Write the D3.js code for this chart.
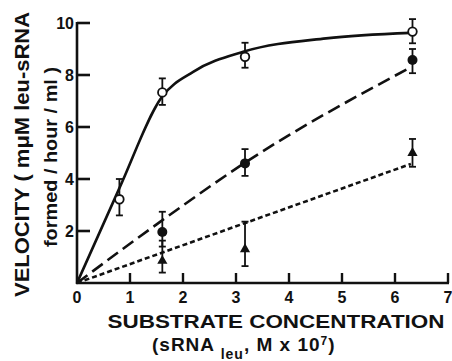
<!DOCTYPE html>
<html>
<head>
<meta charset="utf-8">
<script src="https://cdn.jsdelivr.net/npm/d3@7"></script>
<style>
  body { margin: 0; background: #fff; }
  text { font-family: "Liberation Sans", Arial, sans-serif; font-weight: bold; fill: #111; }
</style>
</head>
<body>
<div id="chart"></div>
<script>
var width = 452,
  height = 361;

// measured points: [substrate, velocity, errLow, errHigh]
var openPts = [[0.8, 3.22, 2.6, 4.0], [1.61, 7.33, 6.85, 7.87], [3.17, 8.7, 8.28, 9.24], [6.33, 9.67, 9.22, 10.15]];
var filledPts = [[1.61, 1.96, 1.4, 2.74], [3.17, 4.6, 4.12, 5.15], [6.33, 8.58, 8.07, 9.0]];
var trianglePts = [[1.61, 0.85, 0.4, 1.63], [3.17, 1.3, 0.65, 2.36], [6.33, 5.0, 4.47, 5.54]];

// fitted curves
var solidCurve = [[0, 0], [0.8, 3.65], [1.6, 7.15], [2.2, 8.13], [3.15, 8.9], [4.7, 9.41], [6.3, 9.62]];
var longDashCurve = [[0, 0], [1.6, 2.4], [3.15, 4.6], [6.3, 8.3]];
var shortDashCurve = [[0, 0], [6.3, 4.58]];

var xTicks = [1, 2, 3, 4, 5, 6, 7];
var xLabels = [0, 1, 2, 3, 4, 5, 6, 7];
var yTicks = [2, 4, 6, 8, 10];

var svg = d3.select("#chart")
  .append("svg")
  .attr("width", width)
  .attr("height", height)

var x = d3.scaleLinear().domain([0, 7]).range([77, 448])
var y = d3.scaleLinear().domain([0, 10]).range([283, 23])

// axes
svg.append("line")
  .attr("x1", x(0)).attr("x2", x(0))
  .attr("y1", y(0) + 1).attr("y2", y(10) - 1)
  .attr("stroke", "#111").attr("stroke-width", 2.6)
svg.append("line")
  .attr("x1", x(0) - 1).attr("x2", x(7) + 1)
  .attr("y1", y(0)).attr("y2", y(0))
  .attr("stroke", "#111").attr("stroke-width", 2.6)

svg.selectAll(".ytick")
  .data(yTicks)
  .enter().append("line")
  .attr("class", "ytick")
  .attr("x1", x(0)).attr("x2", x(0) + 13)
  .attr("y1", function(d) { return y(d) }).attr("y2", function(d) { return y(d) })
  .attr("stroke", "#111").attr("stroke-width", 2.6)

svg.selectAll(".xtick")
  .data(xTicks)
  .enter().append("line")
  .attr("class", "xtick")
  .attr("x1", function(d) { return x(d) }).attr("x2", function(d) { return x(d) })
  .attr("y1", y(0)).attr("y2", y(0) - 10)
  .attr("stroke", "#111").attr("stroke-width", 2.4)

svg.selectAll(".ylabel")
  .data(yTicks)
  .enter().append("text")
  .attr("class", "ylabel")
  .attr("x", x(0) - 3)
  .attr("y", function(d) { return y(d) + 6 })
  .attr("text-anchor", "end")
  .style("font-size", "16px")
  .text(function(d) { return d })

svg.selectAll(".xlabel")
  .data(xLabels)
  .enter().append("text")
  .attr("class", "xlabel")
  .attr("x", function(d) { return x(d) })
  .attr("y", 303)
  .attr("text-anchor", "middle")
  .style("font-size", "16px")
  .text(function(d) { return d })

// curves
var line = d3.line()
  .x(function(d) { return x(d[0]) })
  .y(function(d) { return y(d[1]) })

svg.append("path")
  .datum(solidCurve)
  .attr("d", line.curve(d3.curveMonotoneX))
  .attr("fill", "none").attr("stroke", "#111").attr("stroke-width", 2.6)

svg.append("path")
  .datum(longDashCurve)
  .attr("d", line.curve(d3.curveMonotoneX))
  .attr("fill", "none").attr("stroke", "#111").attr("stroke-width", 2.6)
  .attr("stroke-dasharray", "13,6")

svg.append("path")
  .datum(shortDashCurve)
  .attr("d", line.curve(d3.curveLinear))
  .attr("fill", "none").attr("stroke", "#111").attr("stroke-width", 2.6)
  .attr("stroke-dasharray", "5,3")

// error bars
function errorBars(pts) {
  var g = svg.append("g")
  g.selectAll(".eb").data(pts).enter().append("line")
    .attr("x1", function(d) { return x(d[0]) }).attr("x2", function(d) { return x(d[0]) })
    .attr("y1", function(d) { return y(d[2]) }).attr("y2", function(d) { return y(d[3]) })
    .attr("stroke", "#111").attr("stroke-width", 1.8)
  g.selectAll(".capl").data(pts).enter().append("line")
    .attr("x1", function(d) { return x(d[0]) - 3.5 }).attr("x2", function(d) { return x(d[0]) + 3.5 })
    .attr("y1", function(d) { return y(d[2]) }).attr("y2", function(d) { return y(d[2]) })
    .attr("stroke", "#111").attr("stroke-width", 1.8)
  g.selectAll(".caph").data(pts).enter().append("line")
    .attr("x1", function(d) { return x(d[0]) - 3.5 }).attr("x2", function(d) { return x(d[0]) + 3.5 })
    .attr("y1", function(d) { return y(d[3]) }).attr("y2", function(d) { return y(d[3]) })
    .attr("stroke", "#111").attr("stroke-width", 1.8)
}
errorBars(openPts)
errorBars(filledPts)
errorBars(trianglePts)

// markers
svg.selectAll(".open_pt")
  .data(openPts)
  .enter().append("circle")
  .attr("class", "open_pt")
  .attr("cx", function(d) { return x(d[0]) })
  .attr("cy", function(d) { return y(d[1]) })
  .attr("r", 4.3)
  .attr("fill", "#fff").attr("stroke", "#111").attr("stroke-width", 1.8)

svg.selectAll(".filled_pt")
  .data(filledPts)
  .enter().append("circle")
  .attr("class", "filled_pt")
  .attr("cx", function(d) { return x(d[0]) })
  .attr("cy", function(d) { return y(d[1]) })
  .attr("r", 5)
  .attr("fill", "#111")

var tri = d3.symbol().type(d3.symbolTriangle).size(45)
svg.selectAll(".tri_pt")
  .data(trianglePts)
  .enter().append("path")
  .attr("class", "tri_pt")
  .attr("transform", function(d) { return "translate(" + x(d[0]) + "," + y(d[1]) + ")" })
  .attr("d", tri)
  .attr("fill", "#111")

// axis titles
svg.append("text")
  .attr("transform", "translate(29,154.5) rotate(-90)")
  .attr("text-anchor", "middle")
  .attr("textLength", 285)
  .attr("lengthAdjust", "spacingAndGlyphs")
  .style("font-size", "21px")
  .text("VELOCITY ( m\u03bcM  leu-sRNA")

svg.append("text")
  .attr("transform", "translate(57,157) rotate(-90)")
  .attr("text-anchor", "middle")
  .attr("textLength", 180)
  .attr("lengthAdjust", "spacingAndGlyphs")
  .style("font-size", "19px")
  .text("formed / hour / ml )")

svg.append("text")
  .attr("x", 276)
  .attr("y", 328)
  .attr("text-anchor", "middle")
  .attr("textLength", 337)
  .attr("lengthAdjust", "spacingAndGlyphs")
  .style("font-size", "19px")
  .text("SUBSTRATE  CONCENTRATION")

var sub = svg.append("text")
  .attr("x", 152)
  .attr("y", 351)
  .style("font-size", "19px")
  .style("letter-spacing", "1px")
sub.append("tspan").text("(sRNA ")
sub.append("tspan").attr("dy", 8).style("font-size", "14px").text("leu")
sub.append("tspan").attr("dy", -8).text(", M x 10")
sub.append("tspan").attr("dy", -6).style("font-size", "12px").text("7")
sub.append("tspan").attr("dy", 6).text(")")
</script>
</body>
</html>
